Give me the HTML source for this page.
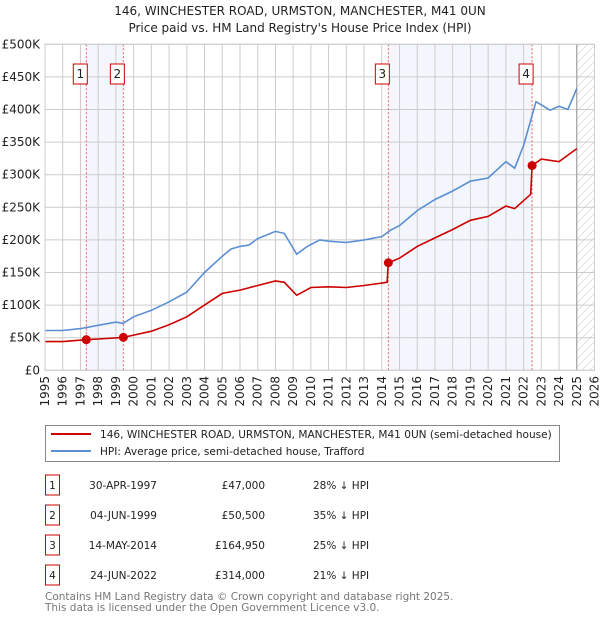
<!DOCTYPE html>
<html><head><meta charset="utf-8"><style>
body{margin:0;background:#fff;font-family:"DejaVu Sans","Liberation Sans",sans-serif;}
#wrap{position:relative;width:600px;height:620px;overflow:hidden}
</style></head><body>
<div id="wrap">
<svg id="chart" width="600" height="620" xmlns="http://www.w3.org/2000/svg" font-family="DejaVu Sans, Liberation Sans, sans-serif"></svg>
</div>
<script>
const hpiYears=[1995,1996,1997,1998,1999,1999.4,2000,2001,2002,2003,2004,2005,2005.5,2006,2006.5,2007,2008,2008.5,2009.2,2009.8,2010.5,2011,2012,2013,2014,2014.5,2015,2016,2017,2018,2019,2020,2021,2021.5,2022,2022.7,2023.5,2024,2024.5,2025];
const hpiValues=[61,61,64,69,74,72,82,92,105,120,150,175,186,190,192,202,213,210,178,190,200,198,196,200,205,215,222,245,262,275,290,295,320,310,345,412,399,405,400,432];
const ppYears=[1995,1996,1997.33,1998,1999.42,2000,2001,2002,2003,2004,2005,2006,2007,2008,2008.5,2009.2,2010,2011,2012,2013,2014.3,2014.37,2015,2016,2017,2018,2019,2020,2021,2021.5,2022.4,2022.48,2023,2024,2025];
const ppValues=[44,44,47,48,50.5,54,60,70,82,100,118,123,130,137,135,115,127,128,127,130,135,164.95,172,190,203,216,230,236,252,248,270,314,324,320,340];
const saleYears=[1997.33,1999.42,2014.37,2022.48];
const saleValues=[47,50.5,164.95,314];
const saleLabels=["1","2","3","4"];
const yTicks=[0,50,100,150,200,250,300,350,400,450,500];
const yTickLabels=["£0","£50K","£100K","£150K","£200K","£250K","£300K","£350K","£400K","£450K","£500K"];
const xTicks=[1995,1996,1997,1998,1999,2000,2001,2002,2003,2004,2005,2006,2007,2008,2009,2010,2011,2012,2013,2014,2015,2016,2017,2018,2019,2020,2021,2022,2023,2024,2025,2026];

const NS="http://www.w3.org/2000/svg";
const svg=document.getElementById('chart');
const L=45,R=594.5,T=44.3,B=370.3;
const X=y=>L+(y-1995)*(R-L)/31;
const Y=v=>B-v*(B-T)/500;
function el(t,a,p){const e=document.createElementNS(NS,t);for(const k in a)e.setAttribute(k,a[k]);(p||svg).appendChild(e);return e;}

let t=el('text',{x:300,y:15,'text-anchor':'middle','font-size':12,fill:'#222'});t.textContent='146, WINCHESTER ROAD, URMSTON, MANCHESTER, M41 0UN';

t=el('text',{x:300,y:32,'text-anchor':'middle','font-size':12,fill:'#222'});t.textContent="Price paid vs. HM Land Registry's House Price Index (HPI)";


for(let i=0;i<2;i++){
 const r=el('rect',{x:X(saleYears[i*2]),y:T,width:X(saleYears[i*2+1])-X(saleYears[i*2]),height:B-T,fill:'#f3f6fd'});
 
}
const defs=el('defs',{});
const pat=el('pattern',{id:'hatch',width:8,height:8,patternUnits:'userSpaceOnUse'},defs);
el('path',{d:'M0,8 L8,0',stroke:'#ccc','stroke-width':0.6},pat);
let hz=el('rect',{x:X(2025),y:T,width:R-X(2025),height:B-T,fill:'url(#hatch)'});


yTicks.forEach((v,i)=>{
 const g=el('line',{x1:L,x2:R,y1:Y(v),y2:Y(v),stroke:'#ccc','stroke-width':1});
 
 const tx=el('text',{x:40,y:Y(v)+4,'text-anchor':'end','font-size':12,fill:'#222'});tx.textContent=yTickLabels[i];
 
});
xTicks.forEach(yr=>{
 const g=el('line',{x1:X(yr),x2:X(yr),y1:T,y2:B,stroke:'#ccc','stroke-width':1});
 
 const tx=el('text',{x:0,y:0,'text-anchor':'end','font-size':12,fill:'#222',transform:`translate(${X(yr)+4},376) rotate(-90)`});tx.textContent=yr;
 
});
let vl=el('line',{x1:X(2025),x2:X(2025),y1:T,y2:B,stroke:'#999','stroke-width':1});


saleYears.forEach(yr=>{
 const l=el('line',{x1:X(yr),x2:X(yr),y1:T,y2:B,stroke:'#e06060','stroke-width':1,'stroke-dasharray':'2,2'});
 
});

function path(xs,vs){return xs.map((x,i)=>(i?'L':'M')+X(x).toFixed(1)+','+Y(vs[i]).toFixed(1)).join(' ');}
let hp=el('path',{d:path(hpiYears,hpiValues),fill:'none',stroke:'#5b8fd4','stroke-width':1.6});

let pp=el('path',{d:path(ppYears,ppValues),fill:'none',stroke:'#cc0000','stroke-width':1.6});


saleYears.forEach((yr,i)=>{
 const c=el('circle',{cx:X(yr),cy:Y(saleValues[i]),r:4.5,fill:'#cc0000'});
 
 const r=el('rect',{x:X(yr)-13,y:64,width:14,height:20,fill:'#fff',stroke:'#cc0000','stroke-width':1});
 
 const tx=el('text',{x:X(yr)-6,y:78,'text-anchor':'middle','font-size':12,fill:'#222'});tx.textContent=saleLabels[i];
 
});
let fr=el('rect',{x:L,y:T,width:R-L,height:B-T,fill:'none',stroke:'#ccc'});


let lg=el('rect',{x:45.5,y:425.5,width:514,height:36,fill:'#fff',stroke:'#888'});

el('line',{x1:51,x2:91,y1:434,y2:434,stroke:'#cc0000','stroke-width':2});
el('line',{x1:51,x2:91,y1:451,y2:451,stroke:'#5b8fd4','stroke-width':2});
t=el('text',{x:100,y:438,'font-size':10.55,fill:'#222'});t.textContent='146, WINCHESTER ROAD, URMSTON, MANCHESTER, M41 0UN (semi-detached house)';

t=el('text',{x:100,y:455,'font-size':10.55,fill:'#222'});t.textContent='HPI: Average price, semi-detached house, Trafford';


const dates=["30-APR-1997","04-JUN-1999","14-MAY-2014","24-JUN-2022"];
const prices=["£47,000","£50,500","£164,950","£314,000"];
const pcts=["28% ↓ HPI","35% ↓ HPI","25% ↓ HPI","21% ↓ HPI"];
dates.forEach((d,i)=>{
 const y=483+i*30;
 const b=el('rect',{x:45.5,y:y-8,width:14,height:20,fill:'#fff',stroke:'#cc0000'});
 
 let a=el('text',{x:52.5,y:y+6,'text-anchor':'middle','font-size':10.5,fill:'#222'});a.textContent=saleLabels[i];
 
 a=el('text',{x:157,y:y+6,'text-anchor':'end','font-size':10.5,fill:'#222'});a.textContent=d;
 
 a=el('text',{x:265,y:y+6,'text-anchor':'end','font-size':10.5,fill:'#222'});a.textContent=prices[i];
 
 a=el('text',{x:313,y:y+6,'font-size':10.5,fill:'#222'});a.textContent=pcts[i];
 
});
t=el('text',{x:45,y:600,'font-size':10.5,fill:'#777'});t.textContent='Contains HM Land Registry data © Crown copyright and database right 2025.';

t=el('text',{x:45,y:611,'font-size':10.5,fill:'#777'});t.textContent='This data is licensed under the Open Government Licence v3.0.';

</script>
</body></html>
